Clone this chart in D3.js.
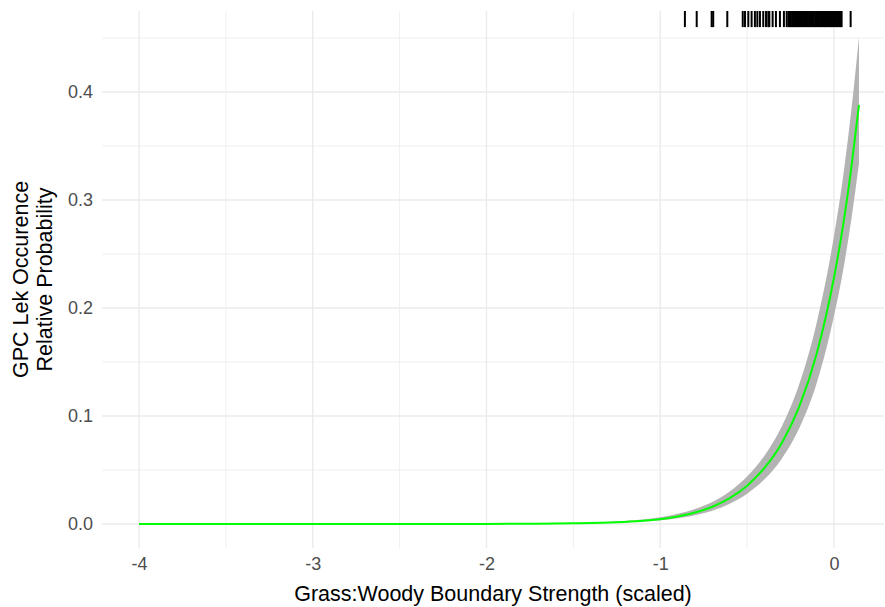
<!DOCTYPE html>
<html>
<head>
<meta charset="utf-8">
<script src="https://cdn.jsdelivr.net/npm/d3@7"></script>
<style>
  html, body { margin: 0; padding: 0; background: #ffffff; }
  svg { display: block; font-family: "Liberation Sans", Arial, Helvetica, sans-serif; }
</style>
</head>
<body>
<svg id="chart" width="885" height="607"></svg>
<script>
// ---- data ----
const xValues = [-4, -3.5, -3, -2.5, -2, -1.75, -1.5, -1.25, -1.1, -1.0, -0.9, -0.8, -0.7, -0.6, -0.5, -0.4, -0.3, -0.2, -0.1, 0, 0.05, 0.1, 0.144];
const fitValues = [0, 0, 0, 0, 0.0001, 0.0003, 0.0007, 0.0017, 0.0031, 0.0045, 0.0070, 0.0106, 0.0160, 0.0240, 0.0355, 0.0519, 0.0751, 0.1088, 0.1575, 0.228, 0.274, 0.330, 0.388];
const upperValues = [0, 0, 0, 0, 0.0001, 0.0004, 0.0010, 0.0024, 0.0042, 0.0062, 0.0094, 0.0140, 0.0205, 0.0302, 0.0440, 0.0633, 0.0905, 0.1295, 0.1860, 0.2665, 0.3185, 0.3830, 0.451];
const lowerValues = [0, 0, 0, 0, 0.0001, 0.0002, 0.0005, 0.0012, 0.0023, 0.0034, 0.0053, 0.0081, 0.0124, 0.0188, 0.0281, 0.0414, 0.0605, 0.0886, 0.1300, 0.1925, 0.2325, 0.2820, 0.334];
const rugValues = [-0.858, -0.790, -0.704, -0.695, -0.614, -0.525, -0.512, -0.493, -0.474, -0.455, -0.441, -0.426, -0.407, -0.391, -0.378, -0.372, -0.353, -0.334, -0.311, -0.288, -0.272,
  -0.262, -0.255, -0.249, -0.241, -0.236, -0.228, -0.221, -0.215, -0.207, -0.199, -0.193, -0.186, -0.178, -0.172, -0.165, -0.158, -0.150, -0.143, -0.137, -0.129, -0.122, -0.116, -0.108, -0.101,
  -0.094, -0.087, -0.080, -0.073, -0.066, -0.059, -0.052, -0.045, -0.038, -0.031, -0.024, -0.017, -0.011, -0.004, 0.003, 0.010, 0.017, 0.024, 0.031, 0.038, 0.044, 0.096];
const xTicks = [-4, -3, -2, -1, 0];
const xMinorTicks = [-3.5, -2.5, -1.5, -0.5];
const yTicks = [0, 0.1, 0.2, 0.3, 0.4];
const yMinorTicks = [0.05, 0.15, 0.25, 0.35, 0.45];
const xTitle = "Grass:Woody Boundary Strength (scaled)";
const yTitleLines = ["GPC Lek Occurence", "Relative Probability"];

// ---- layout ----
const panel = { left: 102, right: 884, top: 11, bottom: 548 };
const svg = d3.select("#chart");

const x = d3.scaleLinear().domain([-4.213, 0.288]).range([panel.left, panel.right]);
const y = d3.scaleLinear().domain([-0.0222, 0.475]).range([panel.bottom, panel.top]);

const grid = svg.append("g");
grid.selectAll("line.ymin").data(yMinorTicks).join("line")
  .attr("x1", panel.left).attr("x2", panel.right)
  .attr("y1", d => y(d)).attr("y2", d => y(d))
  .attr("stroke", "#ebebeb").attr("stroke-width", 0.8);
grid.selectAll("line.xmin").data(xMinorTicks).join("line")
  .attr("y1", panel.top).attr("y2", panel.bottom)
  .attr("x1", d => x(d)).attr("x2", d => x(d))
  .attr("stroke", "#ebebeb").attr("stroke-width", 0.8);
grid.selectAll("line.ymaj").data(yTicks).join("line")
  .attr("x1", panel.left).attr("x2", panel.right)
  .attr("y1", d => y(d)).attr("y2", d => y(d))
  .attr("stroke", "#ebebeb").attr("stroke-width", 1.4);
grid.selectAll("line.xmaj").data(xTicks).join("line")
  .attr("y1", panel.top).attr("y2", panel.bottom)
  .attr("x1", d => x(d)).attr("x2", d => x(d))
  .attr("stroke", "#ebebeb").attr("stroke-width", 1.4);

const pts = xValues.map((d, i) => ({ x: d, fit: fitValues[i], lo: lowerValues[i], hi: upperValues[i] }));

const area = d3.area().curve(d3.curveMonotoneX)
  .x(d => x(d.x)).y0(d => y(d.lo)).y1(d => y(d.hi));
svg.append("path").datum(pts).attr("d", area).attr("fill", "#b3b3b3");

const line = d3.line().curve(d3.curveMonotoneX)
  .x(d => x(d.x)).y(d => y(d.fit));
svg.append("path").datum(pts).attr("d", line)
  .attr("fill", "none").attr("stroke", "#00ff00").attr("stroke-width", 2);

// rug at top
const rugLen = 0.03 * (panel.bottom - panel.top);
svg.append("g").selectAll("line").data(rugValues).join("line")
  .attr("x1", d => x(d)).attr("x2", d => x(d))
  .attr("y1", panel.top).attr("y2", panel.top + rugLen)
  .attr("stroke", "#000").attr("stroke-width", 2);

// axes (no axis lines, labels only)
const xAxis = d3.axisBottom(x).tickValues(xTicks).tickSize(0).tickPadding(0).tickFormat(d => String(d));
const gx = svg.append("g").attr("transform", `translate(0,${panel.bottom + 9})`).call(xAxis);
gx.select(".domain").remove();
gx.selectAll("text").attr("fill", "#4d4d4d").attr("font-size", 18).attr("dy", "0.71em")
  .attr("font-family", "Liberation Sans, Arial, sans-serif");

const yAxis = d3.axisLeft(y).tickValues(yTicks).tickSize(0).tickPadding(0).tickFormat(d3.format(".1f"));
const gy = svg.append("g").attr("transform", `translate(${panel.left - 9},0)`).call(yAxis);
gy.select(".domain").remove();
gy.selectAll("text").attr("fill", "#4d4d4d").attr("font-size", 18)
  .attr("font-family", "Liberation Sans, Arial, sans-serif");

// titles
svg.append("text").attr("x", (panel.left + panel.right) / 2).attr("y", 601)
  .attr("text-anchor", "middle").attr("font-size", 21.5).attr("fill", "#000").text(xTitle);

const yt = svg.append("text").attr("transform", `translate(0,${(panel.top + panel.bottom) / 2}) rotate(-90)`)
  .attr("text-anchor", "middle").attr("font-size", 21.5).attr("fill", "#000");
yt.selectAll("tspan").data(yTitleLines).join("tspan")
  .attr("x", 0).attr("y", (d, i) => 28 + i * 24).text(d => d);
</script>
</body>
</html>
